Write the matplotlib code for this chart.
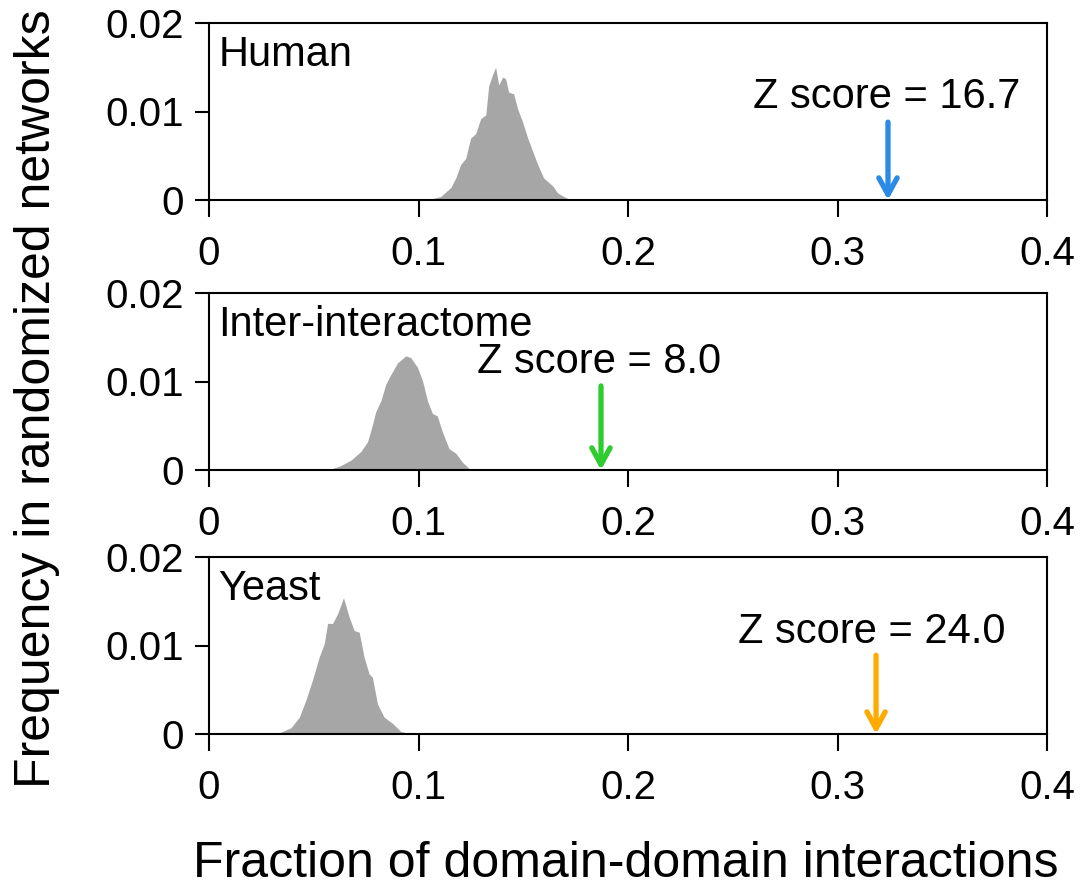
import matplotlib
matplotlib.use("Agg")
import matplotlib.pyplot as plt

plt.rcParams['font.family'] = ['Liberation Sans', 'DejaVu Sans']
plt.rcParams['font.size'] = 30

# Datos (fraccion vs frecuencia)
human_x = [0.100, 0.1058, 0.1106, 0.1154, 0.1178, 0.1201, 0.1225, 0.1249, 0.1273, 0.1297,
           0.1321, 0.1335, 0.1354, 0.1368, 0.1383, 0.1402, 0.1416, 0.1430, 0.1454, 0.1473,
           0.1497, 0.1521, 0.1545, 0.1569, 0.1597, 0.1640, 0.1664, 0.1693, 0.1726]
human_y = [0.0, 0.0001, 0.0004, 0.0014, 0.0025, 0.0040, 0.0047, 0.0070, 0.0075, 0.0092,
           0.0096, 0.0129, 0.0142, 0.0150, 0.0130, 0.0139, 0.0137, 0.0122, 0.0120, 0.0103,
           0.0088, 0.0070, 0.0055, 0.0040, 0.0025, 0.0016, 0.0008, 0.0004, 0.0]

inter_x = [0.055, 0.0582, 0.0629, 0.0677, 0.0725, 0.0757, 0.0780, 0.0796, 0.0820, 0.0844,
           0.0868, 0.0900, 0.0939, 0.0963, 0.0995, 0.1019, 0.1043, 0.1066, 0.1090, 0.1114,
           0.1146, 0.1178, 0.1209, 0.1249]
inter_y = [0.0, 0.0001, 0.0005, 0.0011, 0.0021, 0.0032, 0.0051, 0.0066, 0.0078, 0.0097,
           0.0108, 0.0121, 0.0129, 0.0127, 0.0116, 0.0101, 0.0078, 0.0064, 0.0061, 0.0043,
           0.0024, 0.0019, 0.0009, 0.0]

yeast_x = [0.0296, 0.0343, 0.0391, 0.0431, 0.0462, 0.0494, 0.0526, 0.0550, 0.0566, 0.0590,
           0.0614, 0.0642, 0.0669, 0.0693, 0.0717, 0.0740, 0.0764, 0.0780, 0.0804, 0.0836,
           0.0876, 0.0915, 0.0947, 0.1000, 0.1100]
yeast_y = [0.0, 0.0002, 0.0007, 0.0019, 0.0038, 0.0061, 0.0087, 0.0102, 0.0125, 0.0125,
           0.0136, 0.0154, 0.0132, 0.0117, 0.0115, 0.0087, 0.0068, 0.0064, 0.0034, 0.0019,
           0.0012, 0.0003, 0.0001, 0.0001, 0.0]

names = ["Human", "Inter-interactome", "Yeast"]
z_scores = ["16.7", "8.0", "24.0"]
observed = [0.3241, 0.1871, 0.3184]      # valor real (flecha)
arrow_top = [0.0088, 0.0095, 0.0089]
text_pos = [(0.3236, 0.0116), (0.1862, 0.0122), (0.3165, 0.0115)]
colors = ["#2b8ae6", "#2ecc2e", "#ffaa00"]

x_ticks = [0, 0.1, 0.2, 0.3, 0.4]
x_labels = ["0", "0.1", "0.2", "0.3", "0.4"]
y_ticks = [0, 0.01, 0.02]
y_labels = ["0", "0.01", "0.02"]

fig = plt.figure(figsize=(10.84, 8.92), dpi=100)

# posicion de cada panel en pixeles (arriba, abajo)
panels = [(23, 200), (293, 470), (557, 734)]
datos = [(human_x, human_y), (inter_x, inter_y), (yeast_x, yeast_y)]

for i in range(3):
    top, bottom = panels[i]
    ax = fig.add_axes([209 / 1084, 1 - bottom / 892, 838 / 1084, (bottom - top) / 892])
    hx, hy = datos[i]
    ax.fill_between(hx, hy, 0, color="#a6a6a6", linewidth=0)
    ax.set_xlim(0, 0.4)
    ax.set_ylim(0, 0.02)
    ax.set_xticks(x_ticks)
    ax.set_xticklabels(x_labels, fontsize=29)
    ax.set_yticks(y_ticks)
    ax.set_yticklabels(y_labels, fontsize=29)
    ax.tick_params(axis="x", direction="out", length=12, width=1.5, pad=13)
    ax.tick_params(axis="y", direction="out", length=10, width=1.5, pad=8)
    for s in ax.spines.values():
        s.set_linewidth(1.5)
    ax.text(0.011, 0.82, names[i], transform=ax.transAxes, ha="left", va="center")
    ax.text(text_pos[i][0], text_pos[i][1], "Z score = " + z_scores[i], ha="center", va="center")
    ax.annotate("", xy=(observed[i], 0), xytext=(observed[i], arrow_top[i]),
                arrowprops=dict(arrowstyle="->,head_length=0.4,head_width=0.22",
                                color=colors[i], lw=3.8, shrinkA=0, shrinkB=0))

fig.text(0.034, 0.553, "Frequency in randomized networks", rotation=90,
         ha="center", va="center", fontsize=36)
fig.text(0.577, 0.031, "Fraction of domain-domain interactions",
         ha="center", va="center", fontsize=36)

fig.savefig("out.png", dpi=100)
